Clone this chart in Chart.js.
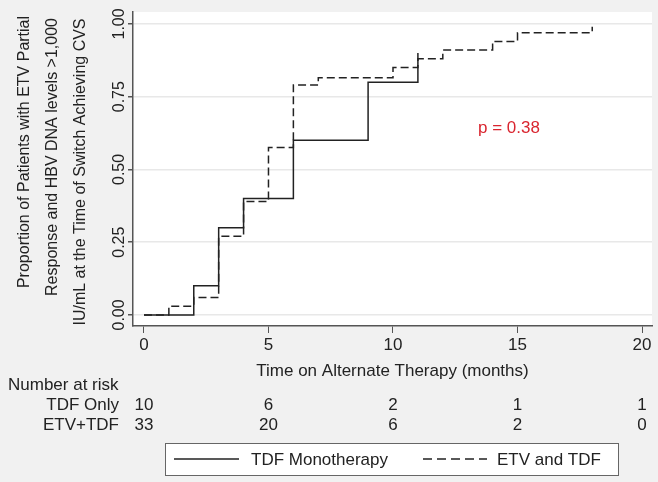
<!DOCTYPE html>
<html>
<head>
<meta charset="utf-8">
<script src="https://cdn.jsdelivr.net/npm/chart.js@4.4.1/dist/chart.umd.min.js"></script>
<style>
  html, body { margin: 0; padding: 0; background: #f1f1f1; }
  #wrap { width: 658px; height: 482px; }
</style>
</head>
<body>
<div id="wrap"><canvas id="km-chart" width="658" height="482"></canvas></div>
<script>
// Kaplan-Meier steps (time in months, cumulative proportion)
const tdfTimes = [0, 2, 3, 4, 6, 9, 11];
const tdfValues = [0, 0.1, 0.3, 0.4, 0.6, 0.8, 0.9];
const etvTimes = [0, 1, 2, 3, 4, 5, 6, 7, 10, 11, 12, 14, 15, 18];
const etvValues = [0, 0.03, 0.06, 0.27, 0.39, 0.575, 0.79, 0.815, 0.85, 0.88, 0.91, 0.94, 0.97, 0.99];

// Axis ticks
const xTicks = [0, 5, 10, 15, 20];
const yTicks = [0, 0.25, 0.5, 0.75, 1];

// Number at risk table
const riskTimes = [0, 5, 10, 15, 20];
const riskTdf = [10, 6, 2, 1, 1];
const riskEtv = [33, 20, 6, 2, 0];

// Texts
const seriesLabels = ['TDF Monotherapy', 'ETV and TDF'];
const riskLabels = ['TDF Only', 'ETV+TDF'];
const yTitleLines = [
    'Proportion of Patients with ETV Partial',
    'Response and HBV DNA levels >1,000',
    'IU/mL at the Time of Switch Achieving CVS'
];
const xTitle = 'Time on Alternate Therapy (months)';
const pValueText = 'p = 0.38';

const font = '"Liberation Sans", Arial, Helvetica, sans-serif';
const ink = '#222';
const axisColor = '#555';

function toPoints(times, values) {
    return times.map((t, i) => ({ x: t, y: values[i] }));
}

// White plot region on the grey page
const plotBackground = {
    id: 'plotBackground',
    beforeDraw(chart) {
        const { ctx, chartArea } = chart;
        ctx.save();
        ctx.fillStyle = '#fff';
        ctx.fillRect(chartArea.left, chartArea.top, chartArea.right - chartArea.left, chartArea.bottom - chartArea.top);
        ctx.restore();
    }
};

// Rotated y labels, titles, risk table, p value and legend box
const extras = {
    id: 'extras',
    afterDraw(chart) {
        const { ctx } = chart;
        const xs = chart.scales.x;
        const ys = chart.scales.y;
        ctx.save();
        ctx.fillStyle = ink;

        // y tick labels, reading upward
        ctx.font = '16px ' + font;
        ctx.textAlign = 'center';
        ctx.textBaseline = 'alphabetic';
        yTicks.forEach(v => {
            ctx.save();
            ctx.translate(124, ys.getPixelForValue(v));
            ctx.rotate(-Math.PI / 2);
            ctx.fillText(v.toFixed(2), 0, 0);
            ctx.restore();
        });

        // y title, three lines
        const titleBase = [29, 57, 85];
        const titleMid = [152, 157, 172];
        yTitleLines.forEach((line, i) => {
            ctx.save();
            ctx.translate(titleBase[i], titleMid[i]);
            ctx.rotate(-Math.PI / 2);
            ctx.fillText(line, 0, 0);
            ctx.restore();
        });

        // x title
        ctx.font = '17px ' + font;
        ctx.fillText(xTitle, (xs.left + xs.right) / 2, 376);

        // number at risk
        ctx.textAlign = 'left';
        ctx.fillText('Number at risk', 8, 390);
        ctx.textAlign = 'right';
        ctx.fillText(riskLabels[0], 119, 410);
        ctx.fillText(riskLabels[1], 119, 430);
        ctx.textAlign = 'center';
        riskTimes.forEach((t, i) => {
            const px = xs.getPixelForValue(t);
            ctx.fillText(String(riskTdf[i]), px, 410);
            ctx.fillText(String(riskEtv[i]), px, 430);
        });

        // p value
        ctx.fillStyle = '#d9252f';
        ctx.font = '17px ' + font;
        ctx.fillText(pValueText, 509, 133);

        // legend box
        ctx.fillStyle = '#fff';
        ctx.fillRect(165, 443, 453, 32);
        ctx.strokeStyle = '#666';
        ctx.lineWidth = 1;
        ctx.strokeRect(165.5, 443.5, 453, 32);
        ctx.strokeStyle = ink;
        ctx.lineWidth = 1.5;
        ctx.beginPath();
        ctx.moveTo(174, 459);
        ctx.lineTo(239, 459);
        ctx.stroke();
        ctx.setLineDash([9, 5]);
        ctx.beginPath();
        ctx.moveTo(423, 459);
        ctx.lineTo(487, 459);
        ctx.stroke();
        ctx.setLineDash([]);
        ctx.fillStyle = ink;
        ctx.textAlign = 'left';
        ctx.fillText(seriesLabels[0], 251, 465);
        ctx.fillText(seriesLabels[1], 497, 465);

        ctx.restore();
    }
};

document.addEventListener('DOMContentLoaded', function() {
    const ctx = document.getElementById('km-chart').getContext('2d');
    new Chart(ctx, {
        type: 'line',
        data: {
            datasets: [
                {
                    label: seriesLabels[0],
                    data: toPoints(tdfTimes, tdfValues),
                    stepped: 'before',
                    borderColor: ink,
                    borderWidth: 1.5,
                    pointRadius: 0,
                    fill: false
                },
                {
                    label: seriesLabels[1],
                    data: toPoints(etvTimes, etvValues),
                    stepped: 'before',
                    borderColor: ink,
                    borderWidth: 1.5,
                    borderDash: [8, 4],
                    pointRadius: 0,
                    fill: false
                }
            ]
        },
        options: {
            responsive: false,
            animation: false,
            devicePixelRatio: 1,
            layout: { padding: { top: 12, right: 6, left: 0, bottom: 0 } },
            scales: {
                x: {
                    type: 'linear',
                    min: -0.44,
                    max: 20.4,
                    afterBuildTicks: s => { s.ticks = xTicks.map(v => ({ value: v })); },
                    afterFit: s => { s.height = 156; },
                    grid: { drawOnChartArea: false, tickLength: 7, tickColor: axisColor },
                    border: { display: true, color: axisColor, width: 1.5 },
                    ticks: {
                        color: ink,
                        padding: 2,
                        maxRotation: 0,
                        autoSkip: false,
                        font: { family: font, size: 17 }
                    }
                },
                y: {
                    min: -0.038,
                    max: 1.041,
                    afterBuildTicks: s => { s.ticks = yTicks.map(v => ({ value: v })); },
                    afterFit: s => { s.width = 133; },
                    grid: { color: '#e8e8e8', lineWidth: 1.5, tickLength: 5, tickColor: axisColor },
                    border: { display: true, color: axisColor, width: 1.5 },
                    ticks: { display: false }
                }
            },
            plugins: {
                legend: { display: false },
                tooltip: { enabled: false }
            }
        },
        plugins: [plotBackground, extras]
    });
});
</script>
</body>
</html>
